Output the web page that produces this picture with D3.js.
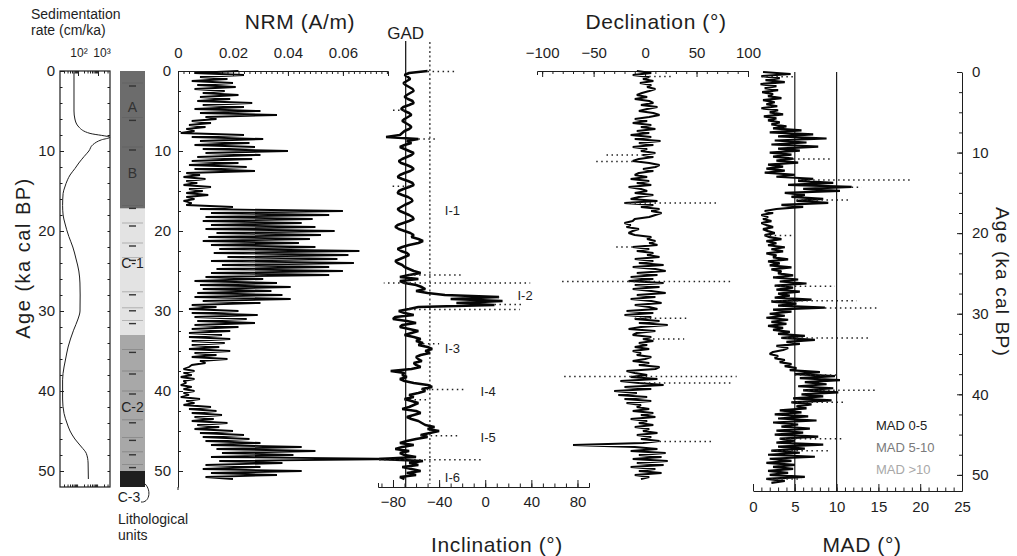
<!DOCTYPE html>
<meta charset="utf-8">
<style>
body { margin: 0; background: #fff; }
text { font-family: Arial, "Liberation Sans", sans-serif; fill: #1e1e1e; }
.axis text { font-size: 15px; }
.axis path, .axis line { stroke: #1e1e1e; }
.title { font-size: 21px; letter-spacing: 0.6px; }
.trace { fill: none; stroke: #050505; stroke-linejoin: bevel; }
.spike { fill: none; stroke: #222; stroke-width: 1.5; stroke-dasharray: 1.5,3.5; }
</style>
<body>
<svg width="1017" height="556"></svg>
<script src="https://d3js.org/d3.v7.min.js"></script>
<script>
// sampling grid of the down-core series (ka cal BP)
var ages = d3.range(0, 51.25, 0.25);

// sedimentation rate (cm/ka)
var sedAge  = [0.2, 5.0, 6.0, 7.0, 7.8, 8.3, 8.6, 9.2, 10.0, 10.7, 11.5, 12.2, 13.0, 13.6, 14.5, 15.3, 16.8, 18, 19, 20.7, 22, 23.5, 25, 26.5, 28, 30, 31, 32.4, 33.5, 34.5, 36, 37, 38.6, 41, 42.8, 44, 45, 46, 47, 47.8, 49, 51];
var sedRate = [63, 63, 70, 110, 400, 3900, 1500, 560, 350, 200, 110, 70, 40, 30, 22, 18, 17, 18, 22, 35, 55, 80, 110, 125, 128, 126, 100, 60, 42, 32, 24, 20, 17, 17, 20, 28, 40, 70, 150, 260, 320, 330];

// lithological units
var lithName  = ["A", "B", "C-1", "C-2", "C-3"];
var lithTop   = [0, 7.5, 17.2, 33.0, 50.0];
var lithBase  = [7.5, 17.2, 33.0, 50.0, 52.0];
var lithLabel = [4.5, 12.8, 24.0, 42.0, null];
var lithDash  = [1.5, 5.8, 9.5, 16.8, 19.0, 21.5, 23.3, 27.6, 29.6, 31.2, 34.8, 37.5, 40.0, 43.6, 45.8, 47.6, 49.2];

// NRM intensity (10^-3 A/m)
var nrm = [
 22,6,24,8, 18,5,20,7, 21,6,17,9, 22,8,19,7, 27,9,24,6,
 30,8,36,10, 14,5,12,4, 10,3,6,1, 24,5,31,8, 26,6,28,9,
 40,10,30,7, 27,5,22,4, 25,6,28,3, 8,2,10,3, 7,2,12,4,
 9,3,11,3, 6,2,5,3, 20,8,60,12, 55,10,49,9, 45,12,50,10,
 57,14,52,11, 48,9,44,12, 50,15,66,13, 62,18,58,12, 64,16,55,14,
 60,12,55,10, 31,6,36,8, 41,9,34,7, 38,6,41,9, 30,5,14,4,
 22,5,29,6, 25,7,28,6, 22,5,19,4, 16,4,19,5, 17,5,15,4,
 19,6,14,5, 18,8,10,5, 4,2,6,2, 5,1,6,2, 3,1,5,2,
 6,2,4,1, 8,3,6,2, 12,4,14,5, 16,6,13,5, 18,7,15,6,
 20,8,24,9, 26,10,30,12, 45,14,50,16, 42,12,81,15, 38,10,30,9,
 45,12,36,10, 20
];

// inclination (deg)
var incl = [
 -50,-66,-70,-67, -65,-68,-71,-69, -66,-63,-62,-65, -68,-70,-67,-63, -62,-66,-71,-73,
 -70,-66,-64,-67, -70,-72,-69,-66, -64,-66,-70,-72, -74,-86,-58,-68, -64,-70,-74,-70,
 -66,-62,-64,-68, -72,-75,-73,-68, -64,-62,-65,-70, -74,-76,-72,-67, -63,-62,-66,-71,
 -75,-76,-72,-67, -64,-63,-66,-70, -73,-76,-74,-70, -66,-63,-62,-66, -71,-76,-78,-75,
 -70,-65,-62,-64, -58,-54,-58,-66, -72,-76,-73,-68, -66,-70,-74,-78, -76,-72,-70,-66,
 -62,-56,-66,-74, -58,-74,-70,-60, -55,-52,-60,-50, -35,12,-30,15, -25,8,-58,-66,
 -75,-70,-62,-78, -80,-68,-60,-72, -74,-66,-58,-64, -70,-62,-56,-60, -54,-58,-50,-46,
 -52,-48,-56,-60, -58,-55,-62,-60, -56,-64,-82,-70, -72,-68,-74,-70, -62,-50,-46,-55,
 -52,-58,-66,-62, -70,-64,-58,-62, -66,-72,-60,-56, -62,-68,-64,-58, -55,-52,-44,-50,
 -40,-48,-56,-50, -60,-68,-74,-62, -72,-78,-66,-74, -70,-60,-92,-54, -66,-58,-72,-64,
 -56,-68,-60,-74, -70
];

// declination (deg)
var decl = [
 -8,6,-12,4, -2,8,-5,6, 2,10,4,-3, -8,2,-10,4, 8,-4,12,2,
 -6,8,14,4, -10,2,-12,6, -4,10,-8,4, -14,6,-10,15, -6,8,-12,2,
 -4,10,-2,8, -6,-12,4,14, 10,-2,8,-6, -10,2,-14,4, -8,6,-16,-4,
 2,-10,8,-6, -14,12,-20,8, -4,14,6,16, 10,4,-10,-12, -20,-14,-18,-6,
 -12,-16,-10,6, 2,10,4,12, -12,4,-8,8, 2,14,-10,8, -6,18,-12,10,
 20,-8,12,-14, 8,-16,18,-10, 14,-12,6,20, -8,10,-14,6, 16,-10,4,12,
 -18,8,-20,6, -10,14,-6,22, -4,-16,10,-8, -12,6,-2,8, -6,2,-10,4,
 -12,-4,-8,6, 0,-12,4,-6, 14,10,-18,-10, 2,-14,12,-24, -6,18,-20,6,
 -30,-8,-26,2, -20,6,-18,-4, -8,4,-12,8, -4,10,-14,2, -6,8,-10,4,
 -2,12,-8,6, -4,14,-2,-70, -10,12,-14,20, -6,16,-12,22, -8,18,-14,10,
 -6,16,-10,4, -4
];

// maximum angular deviation (deg)
var mad = [
 1.2,4.5,1.0,3.2, 1.5,3.8,0.9,2.8, 1.4,3.0,1.1,2.4, 1.8,3.4,1.2,2.6, 1.6,2.9,1.0,3.0,
 2.0,3.6,1.3,2.8, 1.8,3.2,2.2,4.0, 2.4,5.8,2.0,7.2, 3.0,8.8,2.6,6.4, 2.2,7.8,3.0,5.6,
 2.0,4.6,2.4,4.8, 2.8,5.4,1.8,3.6, 1.6,3.8,1.4,5.0, 2.8,7.2,5.4,9.6, 4.2,11.8,6.0,10.4,
 3.8,6.2,4.6,8.4, 5.2,9.0,3.4,6.0, 2.8,1.4,2.4,1.0, 1.8,1.2,2.2,1.0, 1.6,2.4,1.2,1.8,
 2.6,1.4,2.0,3.4, 1.6,2.8,1.8,3.8, 2.2,3.6,1.6,2.8, 2.4,4.2,1.8,3.2, 2.0,4.6,2.2,3.4,
 3.0,4.8,2.4,5.4, 3.2,6.4,2.6,4.8, 2.8,5.6,3.0,4.4, 2.6,7.0,2.2,5.2, 3.0,8.6,2.4,4.6,
 2.0,3.8,1.6,4.2, 2.2,4.0,1.8,3.6, 2.4,4.4,3.0,6.2, 3.4,7.4,4.0,5.6, 2.8,4.2,3.6,2.4,
 2.0,3.0,2.6,3.8, 3.2,4.6,3.8,5.2, 4.4,8.0,5.0,9.8, 5.6,10.4,6.2,8.8, 5.4,9.6,6.0,10.2,
 5.8,8.4,4.8,9.4, 4.6,7.0,5.2,6.4, 3.2,5.8,2.6,6.6, 3.0,7.6,2.4,5.4, 3.4,6.8,2.8,6.0,
 2.6,7.8,3.2,5.0, 2.8,8.4,3.0,6.2, 2.2,5.6,1.8,7.4, 2.0,4.6,1.6,5.0, 2.4,4.8,1.8,4.2,
 2.0,6.2,1.6,3.8, 2.2
];

// scattered (dotted) directions
var inclDotAge = [0.05, 4.9, 8.5, 14.4, 25.5, 26.5, 26.5, 28.3, 29.2, 29.8, 34.1, 39.8, 41.1, 45.6, 48.6];
var inclDotVal = [-24, -82, -43, -83, -19, 39, -88, 10, 33, 30, -40, -16, -50, -22, -3];
var declDotAge = [0.7, 10.5, 11.3, 16.5, 22.0, 26.3, 26.3, 30.9, 33.5, 38.2, 38.2, 39.0, 46.3];
var declDotVal = [27, -39, -50, 70, -30, -83, 83, 40, 38, -81, 89, 85, 65];
var madDotAge  = [0.6, 10.8, 13.4, 14.3, 15.9, 20.3, 26.6, 28.4, 29.3, 33.0, 37.6, 39.5, 41.0, 45.5, 47.0, 50.5];
var madDotVal  = [4.8, 9.5, 18.8, 13.0, 11.5, 4.8, 9.8, 12.4, 14.8, 13.8, 10.2, 14.7, 11.0, 10.8, 9.0, 5.8];

// inclination features
var excName = ["I-1", "I-2", "I-3", "I-4", "I-5", "I-6"];
var excAge  = [17.4, 28.0, 34.6, 40.0, 45.7, 50.7];
var excInc  = [-35, 28, -35, -4, -4, -35];

var gadInc = -69, dashInc = -48;

var svg = d3.select("svg");

var yL = d3.scaleLinear().domain([0, 52]).range([71, 487]);
var yR = d3.scaleLinear().domain([0, 52]).range([72, 491]);
var sedX = d3.scaleLog().domain([Math.pow(10, 1.1), Math.pow(10, 3.6)]).range([60, 110]);
var nrmX = d3.scaleLinear().domain([0, 0.0764]).range([178, 388]);
var incX = d3.scaleLinear().domain([-93, 90]).range([378, 589]);
var decX = d3.scaleLinear().domain([-105, 100]).range([537, 748]);
var madX = d3.scaleLinear().domain([0, 25]).range([753, 962]);

function addAxis(gen, tx, ty, keepLabels) {
  var g = svg.append("g")
      .attr("class", "axis")
      .attr("transform", "translate(" + tx + "," + ty + ")")
      .call(gen);
  if (!keepLabels) { g.selectAll("text").remove(); g.select(".domain").remove(); }
  return g;
}

function trace(values, xs, ys, width, scale) {
  var pts = ages.map(function(a, i) { return [a, values[i] * (scale || 1)]; });
  svg.append("path")
      .attr("class", "trace")
      .style("stroke-width", width)
      .attr("d", d3.line().x(function(d) { return xs(d[1]); }).y(function(d) { return ys(d[0]); })(pts));
}

function dots(dAge, dVal, values, xs, ys) {
  dAge.forEach(function(a, i) {
    var from = values[Math.round(a / 0.25)];
    svg.append("line")
        .attr("class", "spike")
        .attr("x1", xs(from)).attr("x2", xs(dVal[i]))
        .attr("y1", ys(a)).attr("y2", ys(a));
  });
}

// ---------- sedimentation rate ----------
svg.append("text").attr("x", 31).attr("y", 19).style("font-size", "14px").text("Sedimentation");
svg.append("text").attr("x", 31).attr("y", 35).style("font-size", "14px").text("rate (cm/ka)");
svg.append("text").attr("x", sedX(100) + 1).attr("y", 57).attr("text-anchor", "middle").style("font-size", "12px").text("10²");
svg.append("text").attr("x", sedX(1000) + 4).attr("y", 57).attr("text-anchor", "middle").style("font-size", "12px").text("10³");

svg.append("rect")
    .attr("x", sedX.range()[0]).attr("y", yL(0))
    .attr("width", sedX.range()[1] - sedX.range()[0]).attr("height", yL(52) - yL(0))
    .attr("fill", "none").attr("stroke", "#1e1e1e").attr("stroke-width", 1.2);

var logTicks = [20, 30, 40, 50, 60, 70, 80, 90, 200, 300, 400, 500, 600, 700, 800, 900, 2000, 3000];
addAxis(d3.axisTop(sedX).tickValues(logTicks).tickSize(-2.5), 0, yL(0));
addAxis(d3.axisTop(sedX).tickValues([100, 1000]).tickSize(-5), 0, yL(0));
addAxis(d3.axisBottom(sedX).tickValues(logTicks).tickSize(-2.5), 0, yL(52));
addAxis(d3.axisLeft(yL).tickValues([0, 10, 20, 30, 40, 50]).tickSize(-4).tickSizeOuter(0).tickPadding(5), sedX.range()[0], 0, true)
    .select(".domain").remove();
addAxis(d3.axisLeft(yL).tickValues(d3.range(2, 52, 2)).tickSize(-2.5), sedX.range()[0], 0);
addAxis(d3.axisRight(yL).tickValues(d3.range(2, 52, 2)).tickSize(-2.5), sedX.range()[1], 0);

svg.append("path")
    .attr("fill", "none").attr("stroke", "#1e1e1e").attr("stroke-width", 1)
    .attr("d", d3.line().curve(d3.curveMonotoneY)
      .x(function(d) { return sedX(d[1]); }).y(function(d) { return yL(d[0]); })
      (sedAge.map(function(a, i) { return [a, sedRate[i]]; })));

svg.append("text")
    .attr("transform", "translate(30,258) rotate(-90)")
    .attr("text-anchor", "middle").style("font-size", "20px").style("letter-spacing", "1.5px")
    .text("Age (ka cal BP)");

// ---------- lithology ----------
var lithFill = {"A": "#6c6c6c", "B": "#6c6c6c", "C-1": "#e3e3e3", "C-2": "#a8a8a8", "C-3": "#1f1f1f"};
var colX = 120, colW = 25;
lithName.forEach(function(n, i) {
  svg.append("rect")
      .attr("x", colX).attr("y", yL(lithTop[i]))
      .attr("width", colW).attr("height", yL(lithBase[i]) - yL(lithTop[i]))
      .attr("fill", lithFill[n]);
  if (lithLabel[i] !== null) {
    svg.append("text")
        .attr("x", colX + colW / 2).attr("y", yL(lithLabel[i]) + 5)
        .attr("text-anchor", "middle").style("font-size", "14px")
        .style("fill", n.charAt(0) === "C" ? "#222" : "#333")
        .text(n);
  }
});
lithDash.forEach(function(a) {
  svg.append("line").attr("x1", colX + 2).attr("x2", colX + colW - 2)
      .attr("y1", yL(a)).attr("y2", yL(a))
      .attr("stroke", "#555").attr("stroke-width", 0.6).attr("opacity", 0.6);
  svg.append("line").attr("x1", colX + 9).attr("x2", colX + 16)
      .attr("y1", yL(a) + 3).attr("y2", yL(a) + 3)
      .attr("stroke", "#333").attr("stroke-width", 1.4);
});
svg.append("text").attr("x", colX + 9).attr("y", yL(52) + 15)
    .attr("text-anchor", "middle").style("font-size", "14px").text("C-3");
svg.append("path")
    .attr("fill", "none").attr("stroke", "#222").attr("stroke-width", 1)
    .attr("d", "M" + (colX + colW) + "," + yL(51.6) + " C" + (colX + colW + 7) + "," + (yL(52) + 4) + " " + (colX + colW + 4) + "," + (yL(52) + 16) + " " + (colX + colW - 4) + "," + (yL(52) + 15));
svg.append("text").attr("x", colX - 2).attr("y", 524).style("font-size", "14px").text("Lithological");
svg.append("text").attr("x", colX - 2).attr("y", 540).style("font-size", "14px").text("units");

// ---------- NRM ----------
svg.append("text").attr("class", "title").attr("x", 300).attr("y", 29).attr("text-anchor", "middle").text("NRM (A/m)");
addAxis(d3.axisTop(nrmX).tickValues([0, 0.02, 0.04, 0.06]).tickSize(-5).tickSizeOuter(-5).tickPadding(13)
    .tickFormat(function(d) { return d === 0 ? "0" : d3.format(".2f")(d); }), 0, yL(0), true);
addAxis(d3.axisTop(nrmX).tickValues(d3.range(0.002, 0.0764, 0.002)).tickSize(-3), 0, yL(0));
addAxis(d3.axisLeft(yL).tickValues([0, 10, 20, 30, 40, 50]).tickSize(-5).tickSizeOuter(0).tickPadding(7), nrmX(0), 0, true);
addAxis(d3.axisLeft(yL).tickValues(d3.range(2.5, 52, 2.5)).tickSize(-3), nrmX(0), 0);
svg.append("line").attr("x1", nrmX(0)).attr("x2", nrmX(0)).attr("y1", yL(52)).attr("y2", yL(52) + 3).attr("stroke", "#1e1e1e");
trace(nrm, nrmX, yL, 1.8, 0.001);

// ---------- inclination ----------
svg.append("line").attr("x1", incX(gadInc)).attr("x2", incX(gadInc)).attr("y1", 41).attr("y2", yL(52))
    .attr("stroke", "#1e1e1e").attr("stroke-width", 1.3);
svg.append("line").attr("x1", incX(dashInc)).attr("x2", incX(dashInc)).attr("y1", 42).attr("y2", yL(51.6))
    .attr("stroke", "#1e1e1e").attr("stroke-width", 1.2).attr("stroke-dasharray", "2,2.5");
svg.append("text").attr("x", incX(gadInc)).attr("y", 39).attr("text-anchor", "middle").style("font-size", "17px").text("GAD");
addAxis(d3.axisBottom(incX).tickValues([-80, -40, 0, 40, 80]).tickSize(-7).tickSizeOuter(-4).tickPadding(9), 0, yL(52), true);
addAxis(d3.axisBottom(incX).tickValues(d3.range(-90, 91, 10)).tickSize(-3.5), 0, yL(52));
svg.append("text").attr("class", "title").attr("x", 497).attr("y", 552).attr("text-anchor", "middle").text("Inclination (°)");
trace(incl, incX, yL, 2.5);
dots(inclDotAge, inclDotVal, incl, incX, yL);
excName.forEach(function(n, i) {
  svg.append("text").attr("x", incX(excInc[i])).attr("y", yL(excAge[i]) + 5)
      .style("font-size", "13px").text(n);
});

// ---------- declination ----------
svg.append("text").attr("class", "title").attr("x", 656).attr("y", 29).attr("text-anchor", "middle").text("Declination (°)");
addAxis(d3.axisTop(decX).tickValues([-100, -50, 0, 50, 100]).tickSize(-6).tickSizeOuter(-4).tickPadding(13), 0, yL(0), true);
addAxis(d3.axisTop(decX).tickValues(d3.range(-100, 101, 10)).tickSize(-3), 0, yL(0));
trace(decl, decX, yL, 2.2);
dots(declDotAge, declDotVal, decl, decX, yL);

// ---------- MAD ----------
[5, 10].forEach(function(v) {
  svg.append("line").attr("x1", madX(v)).attr("x2", madX(v)).attr("y1", yR(0)).attr("y2", yR(52))
      .attr("stroke", "#1e1e1e").attr("stroke-width", 1.2);
});
addAxis(d3.axisBottom(madX).tickValues([0, 5, 10, 15, 20, 25]).tickSize(-7).tickSizeOuter(0).tickPadding(10), 0, yR(52), true);
addAxis(d3.axisBottom(madX).tickValues(d3.range(1, 25, 1)).tickSize(-3.5), 0, yR(52));
addAxis(d3.axisRight(yR).tickValues([0, 10, 20, 30, 40, 50]).tickSize(-5).tickSizeOuter(0).tickPadding(10), madX(25), 0, true);
addAxis(d3.axisRight(yR).tickValues(d3.range(2.5, 52, 2.5)).tickSize(-3), madX(25), 0);
trace(mad, madX, yR, 2.2);
dots(madDotAge, madDotVal, mad, madX, yR);

var legName = ["MAD 0-5", "MAD 5-10", "MAD >10"];
var legFill = ["#222", "#7a7a7a", "#a8a8a8"];
legName.forEach(function(n, i) {
  svg.append("text").attr("x", 876).attr("y", 430 + i * 22)
      .style("fill", legFill[i]).style("font-size", "13px").text(n);
});
svg.append("text").attr("class", "title").attr("x", 862).attr("y", 552).attr("text-anchor", "middle").text("MAD (°)");
svg.append("text")
    .attr("transform", "translate(996,282) rotate(90)")
    .attr("text-anchor", "middle").style("font-size", "19px").style("letter-spacing", "1.2px")
    .text("Age (ka cal BP)");
</script>
</body>
